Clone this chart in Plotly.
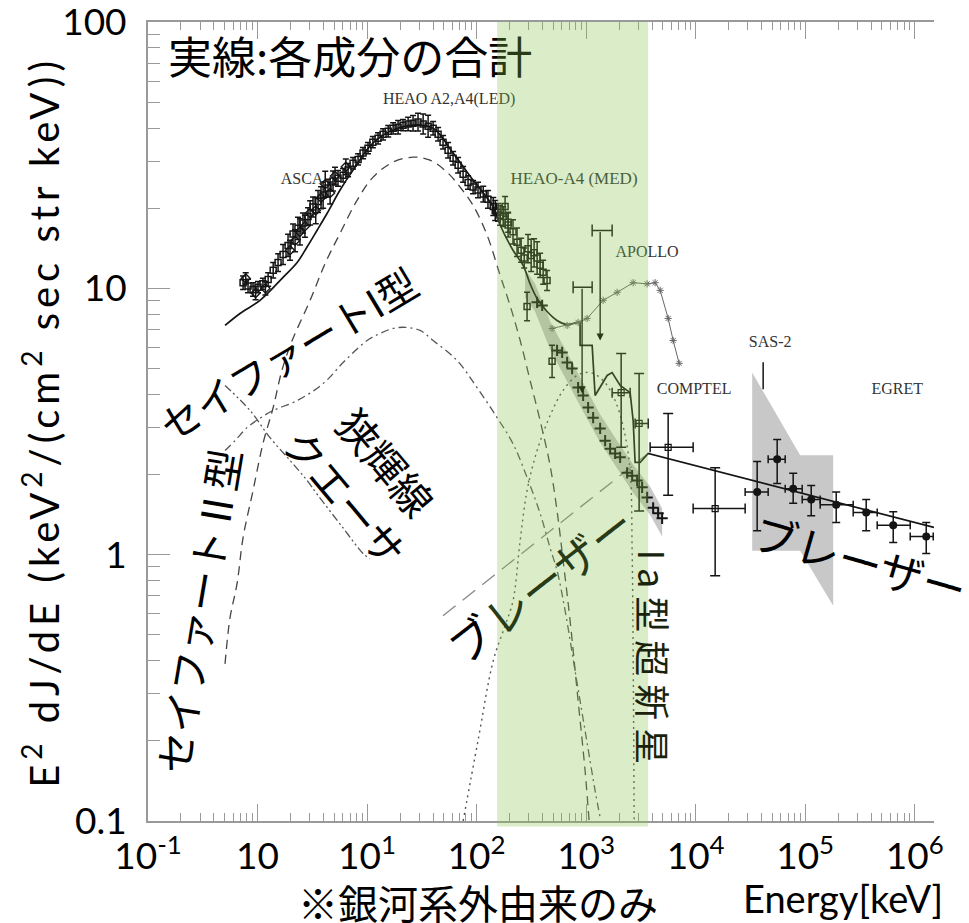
import numpy as np
import plotly.graph_objects as go

W, H = 969, 923

# ---------------- axes ----------------
x_min, x_max = 0.1, 1.5e6          # keV
y_min, y_max = 0.1, 100.05
x_tick_vals = [1e-1, 1e0, 1e1, 1e2, 1e3, 1e4, 1e5, 1e6]
x_tick_text = ["10<sup>-1</sup>", "10", "10<sup>1</sup>", "10<sup>2</sup>",
               "10<sup>3</sup>", "10<sup>4</sup>", "10<sup>5</sup>", "10<sup>6</sup>"]
y_tick_vals = [0.1, 1, 10, 100]
y_tick_text = ["0.1", "1", "10", "100"]

# highlighted energy window (keV)
band_lo, band_hi = 154, 3684

# ---------------- model components ----------------
# total of all components (solid); smooth low-energy part + structured tail
total_e = [0.505, 0.692, 1.054, 1.71, 2.30, 2.83, 3.49, 4.31, 5.67, 7.45, 11.3, 17.3,
           26.3, 40.1, 61.0, 92.9, 142, 164, 215, 266, 308, 357, 440, 543, 671, 828]
total_f = [7.26, 8.05, 9.02, 11.0, 12.5, 14.3, 16.5, 19.1, 23.4, 27.8, 35.1, 39.3,
           41.0, 39.9, 32.2, 25.5, 20.2, 17.3, 13.9, 12.2, 10.4, 9.16, 8.19, 7.58, 7.32, 7.45]
tail_e = [828, 881, 881, 1135, 1208, 1556, 1728, 2045, 2523, 2687, 2802, 3113, 3684, 1.5e6]
tail_f = [7.45, 7.45, 6.11, 6.11, 3.96, 4.71, 4.83, 4.32, 4.06, 3.19, 2.22, 2.22, 2.40, 1.265]

# Seyfert type II (dashed)
sy2_e = [0.505, 0.561, 0.650, 0.738, 0.910, 1.12, 1.39, 1.67, 2.07, 3.02, 4.14, 5.67,
         8.10, 11.3, 17.3, 26.3, 37.6, 53.8, 70.7, 92.9, 125, 164, 202, 250, 308, 380,
         469, 543, 617, 714, 845, 979, 1065]
sy2_f = [0.389, 0.580, 0.778, 1.16, 1.74, 2.61, 3.57, 4.92, 6.37, 9.02, 12.4, 16.1,
         21.4, 26.1, 29.8, 31.1, 30.3, 27.3, 24.0, 20.5, 15.8, 11.2, 8.63, 6.37, 4.51,
         3.19, 2.16, 1.46, 0.949, 0.565, 0.283, 0.154, 0.1]

# Seyfert type I (dash-dot)
sy1_e = [0.505, 0.623, 0.802, 1.05, 1.39, 2.30, 3.97, 6.30, 10.0, 13.1, 17.3, 22.2, 30.5,
         40.1, 66.4, 101, 154, 215, 289, 380, 469, 543, 643, 793, 979, 1208, 1343]
sy1_f = [2.46, 2.68, 3.00, 3.25, 3.48, 3.79, 4.39, 5.36, 6.37, 6.77, 7.07, 7.14, 6.95,
         6.37, 5.36, 4.24, 3.27, 2.61, 1.95, 1.43, 1.06, 0.871, 0.616, 0.366, 0.218,
         0.130, 0.103]

# narrow-line quasars (dash-dot-dot)
nlq_e = [0.505, 0.854, 1.30, 1.98, 2.83, 3.49, 6.04, 9.19, 10.6]
nlq_f = [4.32, 3.48, 2.75, 2.26, 1.90, 1.69, 1.26, 1.01, 0.966]

# type Ia supernovae (dotted)
snia_e = [75.3, 103, 142, 182, 215, 250, 289, 357, 469, 617, 828, 1088, 1430, 1840,
          2223, 2523, 2631, 2687, 2744]
snia_f = [0.1, 0.200, 0.400, 0.541, 0.671, 1.13, 1.74, 2.46, 3.33, 4.14, 4.71, 4.83,
          4.51, 3.79, 2.92, 2.07, 1.035, 0.436, 0.1]

# blazars, rising part (thin long dashes)
blz_e = [49.4, 3684]
blz_f = [0.590, 2.40]

# ---------------- measurements ----------------
# ASCA / HEAO A2,A4 (LED)
led_e = [0.738, 0.819, 0.910, 1.01, 1.12, 1.25, 1.39, 1.54, 1.71, 1.90, 2.11, 2.34, 2.60,
         2.89, 3.21, 3.57, 3.97, 4.40, 4.89, 5.43, 6.04, 6.71, 7.45, 8.28, 9.19, 10.2,
         11.3, 12.6, 14.0, 15.6, 17.3, 19.2, 21.3, 23.7, 26.3, 29.2, 32.5, 36.1, 40.1,
         44.5, 49.4, 54.9, 61.0, 67.8, 75.3, 83.6, 92.9, 103, 115, 127, 142, 157, 175, 194]
led_f = [10.5, 10.2, 9.91, 10.1, 10.4, 10.8, 11.7, 12.5, 13.4, 14.5, 16.0, 16.8, 17.6,
         18.6, 20.2, 21.2, 22.4, 23.8, 25.3, 25.9, 26.6, 27.8, 29.5, 30.5, 32.2, 33.6,
         35.4, 36.6, 37.9, 38.9, 39.9, 40.3, 41.0, 41.4, 41.7, 42.1, 41.4, 40.6, 39.9,
         37.9, 35.4, 33.0, 30.8, 29.0, 26.8, 25.0, 24.0, 23.4, 22.6, 21.6, 20.3, 19.3,
         18.6, 17.7]
led_rel = [0.06, 0.06, 0.06, 0.05, 0.05, 0.06, 0.07, 0.08, 0.09, 0.10, 0.09, 0.10, 0.09,
           0.08, 0.09, 0.10, 0.12, 0.08, 0.09, 0.07, 0.06, 0.06, 0.05, 0.05, 0.05, 0.05,
           0.05, 0.05, 0.05, 0.05, 0.05, 0.06, 0.05, 0.06, 0.07, 0.08, 0.09, 0.10, 0.06,
           0.06, 0.06, 0.07, 0.06, 0.07, 0.07, 0.06, 0.06, 0.07, 0.07, 0.08, 0.08, 0.08,
           0.09, 0.09]
# additional ASCA points scattered around the 1-8 keV rise
asca_e = [0.78, 0.96, 1.18, 1.98, 2.20, 2.44, 2.71, 3.02, 3.40, 3.80, 4.15, 4.60, 5.10, 6.40]
asca_f = [10.9, 9.6, 10.0, 13.9, 15.1, 16.3, 17.1, 19.2, 19.6, 21.9, 24.6, 22.8, 26.4, 28.6]
asca_rel = [0.05, 0.06, 0.06, 0.09, 0.10, 0.12, 0.10, 0.11, 0.12, 0.10, 0.12, 0.10, 0.08, 0.07]

# HEAO-A4 (MED)
med_e = [148, 164, 182, 194, 215, 234, 255, 272, 295, 315, 335, 357, 380, 405, 440, 289, 489]
med_f = [19.6, 18.8, 20.3, 17.3, 16.3, 14.9, 13.9, 13.0, 14.1, 13.3, 13.6, 13.0, 12.2,
         11.5, 10.7, 8.55, 5.32]
med_rel = [0.09, 0.09, 0.09, 0.11, 0.11, 0.13, 0.11, 0.09, 0.13, 0.15, 0.13, 0.15, 0.11,
           0.11, 0.09, 0.13, 0.15]

# MeV continuum measurements with uncertainty band
smm_e = [357, 397, 543, 604, 671, 745, 845, 939, 1043, 1159, 1343, 1492, 1657, 1840,
         2045, 2368, 2631, 2922, 3246, 3606, 4093, 4545, 4943]
smm_f = [8.86, 8.63, 5.85, 5.75, 5.27, 5.00, 4.24, 3.96, 3.57, 3.27, 2.98, 2.68, 2.50,
         2.40, 2.32, 2.03, 1.98, 1.90, 1.79, 1.64, 1.50, 1.43, 1.37]
smm_band_e = [277, 342, 469, 671, 939, 1343, 1919, 2687, 3843, 4943]
smm_band_hi = [11.8, 10.4, 7.52, 5.70, 4.39, 3.36, 2.68, 2.18, 1.80, 1.49]
smm_band_lo = [9.25, 8.19, 5.90, 4.47, 3.45, 2.64, 2.11, 1.71, 1.41, 1.17]

# APOLLO
apollo_e = [489, 671, 845, 1021, 1430, 1919, 2687, 3606, 4267, 4742, 5611, 6232, 7068]
apollo_f = [7.07, 7.26, 7.45, 7.71, 9.02, 9.66, 10.5, 10.4, 10.5, 9.83, 7.71, 6.37, 5.23]
apollo_ul_e = [919, 1343]
apollo_ul_elo = [761, 1135]
apollo_ul_ehi = [1135, 1728]
apollo_ul_f = [10.1, 16.5]
apollo_ul_tip = [4.03, 6.37]

# COMPTEL
comptel_e = [2089, 3047, 5611, 15070]
comptel_elo = [1728, 2802, 3843, 9488]
comptel_ehi = [2523, 3684, 9488, 28300]
comptel_f = [4.06, 3.11, 2.53, 1.49]
comptel_flo = [2.53, 1.46, 1.67, 0.834]
comptel_fhi = [5.70, 4.79, 3.39, 2.12]

# SAS-2 allowed region and marker
sas_poly_e = [32810, 90000, 180200, 180200, 90000, 32810]
sas_poly_f = [4.83, 2.36, 2.36, 0.643, 1.035, 1.035]
sas_mark_e = [41340, 41340]
sas_mark_f = [5.28, 4.18]

# EGRET
egret_e = [36450, 55500, 77700, 113500, 192000, 360600, 636400, 1.274e6]
egret_elo = [28300, 45920, 65670, 93900, 137100, 274400, 454500, 909800]
egret_ehi = [45920, 65670, 93900, 137100, 274400, 454500, 909800, 1.476e6]
egret_f = [1.72, 2.28, 1.77, 1.61, 1.54, 1.44, 1.29, 1.17]
egret_flo = [1.23, 1.85, 1.56, 1.40, 1.32, 1.23, 1.11, 1.01]
egret_fhi = [2.24, 2.71, 2.02, 1.82, 1.72, 1.61, 1.45, 1.32]

INK = "#141414"
GREEN_INK = "rgb(40,58,22)"
CJK = "Noto Sans CJK JP"
LAT = "Lato"
SERIF = "Liberation Serif"


def asym(vals, lo, hi):
    v = np.asarray(vals, float)
    return dict(type="data", symmetric=False,
                array=(np.asarray(hi, float) - v).tolist(),
                arrayminus=(v - np.asarray(lo, float)).tolist())


def rel_err(vals, rel):
    v = np.asarray(vals, float)
    r = np.asarray(rel, float)
    return dict(type="data", symmetric=False, array=(v * r).tolist(),
                arrayminus=(v * r / (1 + r)).tolist(), thickness=1.5, width=3, color=INK)


fig = go.Figure()

# shaded regions
fig.add_trace(go.Scatter(x=smm_band_e + smm_band_e[::-1], y=smm_band_hi + smm_band_lo[::-1],
                         fill="toself", fillcolor="rgb(200,200,200)", line=dict(width=0),
                         mode="lines", hoverinfo="skip"))
fig.add_trace(go.Scatter(x=sas_poly_e, y=sas_poly_f, fill="toself",
                         fillcolor="rgb(200,200,200)", line=dict(width=0),
                         mode="lines", hoverinfo="skip"))

# model components
fig.add_trace(go.Scatter(x=sy2_e, y=sy2_f, mode="lines", line_shape="spline",
                         line=dict(color="#444", width=1.3, dash="9px,6px")))
fig.add_trace(go.Scatter(x=sy1_e, y=sy1_f, mode="lines", line_shape="spline",
                         line=dict(color="#555", width=1.3, dash="8px,4px,2px,4px")))
fig.add_trace(go.Scatter(x=nlq_e, y=nlq_f, mode="lines", line_shape="spline",
                         line=dict(color="#555", width=1.3,
                                   dash="8px,3px,2px,3px,2px,3px")))
fig.add_trace(go.Scatter(x=snia_e, y=snia_f, mode="lines", line_shape="spline",
                         line=dict(color="#555", width=1.4, dash="2px,4px")))
fig.add_trace(go.Scatter(x=blz_e, y=blz_f, mode="lines",
                         line=dict(color="#888", width=1.3, dash="16px,9px")))

# total
fig.add_trace(go.Scatter(x=total_e, y=total_f, mode="lines", line_shape="spline",
                         line=dict(color=INK, width=1.7)))
fig.add_trace(go.Scatter(x=tail_e, y=tail_f, mode="lines",
                         line=dict(color=INK, width=1.7)))

# measurements
sq = dict(symbol="square-open", size=6, color=INK, line=dict(width=1.5))
fig.add_trace(go.Scatter(x=led_e, y=led_f, mode="markers", marker=sq,
                         error_y=rel_err(led_f, led_rel)))
fig.add_trace(go.Scatter(x=asca_e, y=asca_f, mode="markers",
                         marker=dict(symbol="diamond-open", size=7, color=INK,
                                     line=dict(width=1.4)),
                         error_y=rel_err(asca_f, asca_rel)))
fig.add_trace(go.Scatter(x=med_e, y=med_f, mode="markers", marker=sq,
                         error_y=rel_err(med_f, med_rel)))
fig.add_trace(go.Scatter(x=smm_e, y=smm_f, mode="markers",
                         marker=dict(symbol="cross-thin", size=8, color=INK,
                                     line=dict(width=2, color=INK))))
fig.add_trace(go.Scatter(x=apollo_e, y=apollo_f, mode="lines+markers",
                         line=dict(color="#666", width=1),
                         marker=dict(symbol="asterisk-open", size=6,
                                     line=dict(width=1, color="#333"))))
fig.add_trace(go.Scatter(x=apollo_ul_e, y=apollo_ul_f, mode="markers",
                         marker=dict(size=1, color=INK),
                         error_x=dict(asym(apollo_ul_e, apollo_ul_elo, apollo_ul_ehi),
                                      thickness=1.5, width=6, color=INK)))
fig.add_trace(go.Scatter(x=comptel_e, y=comptel_f, mode="markers",
                         marker=dict(symbol="square-open", size=6, color=INK,
                                     line=dict(width=1.2)),
                         error_x=dict(asym(comptel_e, comptel_elo, comptel_ehi),
                                      thickness=1.5, width=5, color=INK),
                         error_y=dict(asym(comptel_f, comptel_flo, comptel_fhi),
                                      thickness=1.5, width=5, color=INK)))
fig.add_trace(go.Scatter(x=sas_mark_e, y=sas_mark_f, mode="lines",
                         line=dict(color=INK, width=1.5)))
fig.add_trace(go.Scatter(x=egret_e, y=egret_f, mode="markers",
                         marker=dict(symbol="circle", size=8, color=INK),
                         error_x=dict(asym(egret_e, egret_elo, egret_ehi),
                                      thickness=1.5, width=4, color=INK),
                         error_y=dict(asym(egret_f, egret_flo, egret_fhi),
                                      thickness=1.5, width=4, color=INK)))


# horizontal labels are drawn as text traces so the highlight band tints them too
def text_mark(text, e, f, size, color="#333", family=SERIF, pos="middle center"):
    fig.add_trace(go.Scatter(x=[e], y=[f], mode="text", text=[text], textposition=pos,
                             textfont=dict(family=family, size=size, color=color),
                             cliponaxis=False, hoverinfo="skip"))


text_mark("ASCA", 2.55, 25.5, 16)
text_mark("HEAO A2,A4(LED)", 56.1, 50.9, 16)
text_mark("HEAO-A4 (MED)", 776, 25.5, 17)
text_mark("APOLLO", 3606, 13.6, 16)
text_mark("COMPTEL", 9680, 4.14, 16)
text_mark("SAS-2", 47900, 6.21, 16)
text_mark("EGRET", 692000, 4.14, 16)
text_mark("実線:各成分の合計", 0.152, 70.2, 44, color="black", family=CJK,
          pos="middle right")

# translucent highlight of the MeV window, laid over the data
fig.add_shape(type="rect", xref="x", yref="paper", x0=band_lo, x1=band_hi,
              y0=-0.007, y1=1.0, fillcolor="rgba(132,195,72,0.30)",
              line=dict(width=0), layer="above")

ann = []


def label(text, e, f, size, color="black", family=CJK, angle=0, **kw):
    ann.append(dict(text=text, x=np.log10(e), y=np.log10(f), xref="x", yref="y",
                    showarrow=False, textangle=angle, xanchor="center", yanchor="middle",
                    font=dict(family=family, size=size, color=color), **kw))


def paper_label(text, xp, yp, size, color="black", family=CJK, angle=0, **kw):
    ann.append(dict(text=text, x=xp, y=yp, xref="paper", yref="paper",
                    showarrow=False, textangle=angle, xanchor="center", yanchor="middle",
                    font=dict(family=family, size=size, color=color), **kw))


# component names
label("セイファートI型", 1.90, 5.74, 40, angle=-31)
label("セイファートⅡ型", 0.280, 0.616, 41, angle=-80.5)
label("狭輝線<br>クエーサ", 9.80, 1.93, 41, angle=50)
label("ブ", 87.3, 0.488, 44, angle=-38)
label("レーザー", 543, 0.879, 44, color=GREEN_INK, angle=-38)
label('<span style="letter-spacing:8px">Ia型超新星</span>', 4180, 0.400, 36,
      color="rgb(25,35,12)", angle=90)
label("ブレーザー", 318000, 0.966, 44, angle=16)

# APOLLO upper limits
for e, top, tip in zip(apollo_ul_e, apollo_ul_f, apollo_ul_tip):
    ann.append(dict(x=np.log10(e), y=np.log10(tip), ax=np.log10(e), ay=np.log10(top),
                    xref="x", yref="y", axref="x", ayref="y", text="", showarrow=True,
                    arrowhead=2, arrowsize=1.1, arrowwidth=1.3, arrowcolor=GREEN_INK))

# axis titles and footnote
paper_label('<span style="letter-spacing:5px">E<sup>2</sup> dJ/dE (keV<sup>2</sup>/'
            '(cm<sup>2</sup> sec str keV))</span>',
            -0.137, 0.5, 40, family=LAT, angle=-90)
paper_label("※銀河系外由来のみ", 0.420, -0.102, 40)
paper_label("Energy[keV]", 0.884, -0.096, 38, family=LAT)

fig.update_layout(
    width=W, height=H, showlegend=False,
    paper_bgcolor="white", plot_bgcolor="white",
    margin=dict(l=148, r=35, t=22, b=102, autoexpand=False),
    annotations=ann,
)
fig.update_xaxes(
    type="log", range=[np.log10(x_min), np.log10(x_max)], automargin=False,
    tickvals=x_tick_vals, ticktext=x_tick_text,
    tickfont=dict(family=LAT, size=37, color="black"),
    ticks="inside", ticklen=17, tickcolor="#999", tickwidth=1,
    showline=True, linecolor="#999", linewidth=1.5, mirror="ticks",
    showgrid=False, zeroline=False, ticklabelstandoff=2, ticklabeloverflow="allow",
    minor=dict(ticks="inside", ticklen=8, tickcolor="#999", dtick="D1", showgrid=False),
)
fig.update_yaxes(
    type="log", range=[np.log10(y_min), np.log10(y_max)], automargin=False,
    tickvals=y_tick_vals, ticktext=y_tick_text,
    tickfont=dict(family=LAT, size=37, color="black"),
    ticks="inside", ticklen=22, tickcolor="#999", tickwidth=1,
    showline=True, linecolor="#999", linewidth=2,
    showgrid=False, zeroline=False, ticklabelstandoff=12, ticklabeloverflow="allow",
    minor=dict(ticks="inside", ticklen=12, tickcolor="#999", dtick="D1", showgrid=False),
)

fig.write_html("out.html")
